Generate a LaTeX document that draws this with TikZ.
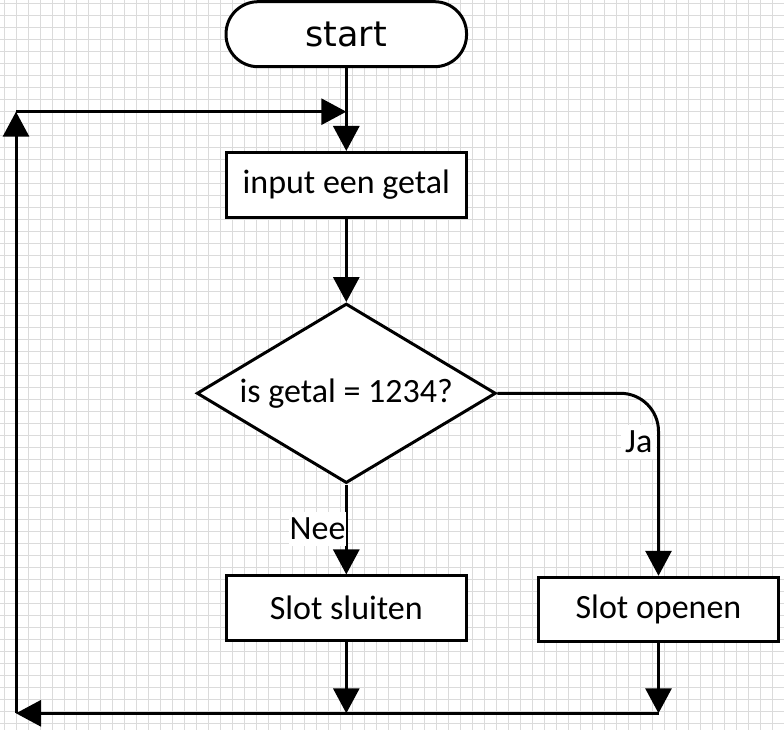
\documentclass[tikz,border=0pt]{standalone}
\usepackage{fontspec}
\setmainfont{Carlito}
\newfontfamily\startfont{DejaVu Sans}
\usetikzlibrary{arrows.meta,shapes.geometric}
\begin{document}
\begin{tikzpicture}[x=1bp,y=-1bp,
  gridline/.style={draw=gray!28,line width=0.8bp},
  boxtext/.style={font=\fontsize{34bp}{40bp}\selectfont},
  box/.style={draw,line width=3bp,fill=white,rectangle,minimum width=240.5bp,minimum height=65bp,inner sep=0pt,boxtext},
  conn/.style={line width=3bp,-{Triangle[length=25bp,width=26bp]}},
  lbl/.style={fill=white,inner xsep=0.5bp,inner ysep=6bp,boxtext}]
\useasboundingbox (0,0) rectangle (784,730);
\fill[white] (0,0) rectangle (784,730);
\foreach \gx in {0,...,65} {\draw[gridline] (4+12*\gx,0) -- (4+12*\gx,730);}
\foreach \gy in {0,...,60} {\draw[gridline] (0,3.3+12*\gy) -- (784,3.3+12*\gy);}

\node[draw,line width=3bp,fill=white,rectangle,rounded corners=32bp,minimum width=240.5bp,minimum height=65bp,inner sep=0pt,font=\startfont\fontsize{35bp}{40bp}\selectfont] (st) at (346.3,34.2) {start};
\node[box] (inp) at (346.3,185) {input een getal};
\node[diamond,shape aspect=1.666,draw,line width=3bp,fill=white,minimum width=299bp,minimum height=179.5bp,inner sep=0pt,boxtext] (dec) at (346.3,393.3) {is getal = 1234?};
\node[box,minimum height=64.7bp] (sluit) at (346.3,608.3) {Slot sluiten};
\node[box,minimum width=240bp,minimum height=64.4bp] (open) at (658.5,609.5) {Slot openen};

\coordinate (lt) at (16,111.7);
\coordinate (jt) at (346.3,111.7);
\coordinate (bl) at (16,713.3);
\coordinate (bm) at (346.3,713.3);
\coordinate (br) at (658.5,713.3);

\draw[conn] (st.south) -- (inp.north);
\draw[conn] (inp.south) -- (dec.north);
\draw[conn] (dec.south) -- (sluit.north);
\draw[conn,rounded corners=38bp] (dec.east) -| (open.north);
\draw[conn] (sluit.south) -- (bm);
\draw[conn] (open.south) -- (br);
\draw[conn] (br) -- (bl);
\draw[conn] (bl) -- (lt);
\draw[conn] (lt) -- (jt);

\node[lbl,anchor=east] (nee) at (346.2,529) {Nee};
\node[lbl,anchor=east,inner xsep=4bp] (ja) at (656.5,442) {Ja};
\end{tikzpicture}
\end{document}
